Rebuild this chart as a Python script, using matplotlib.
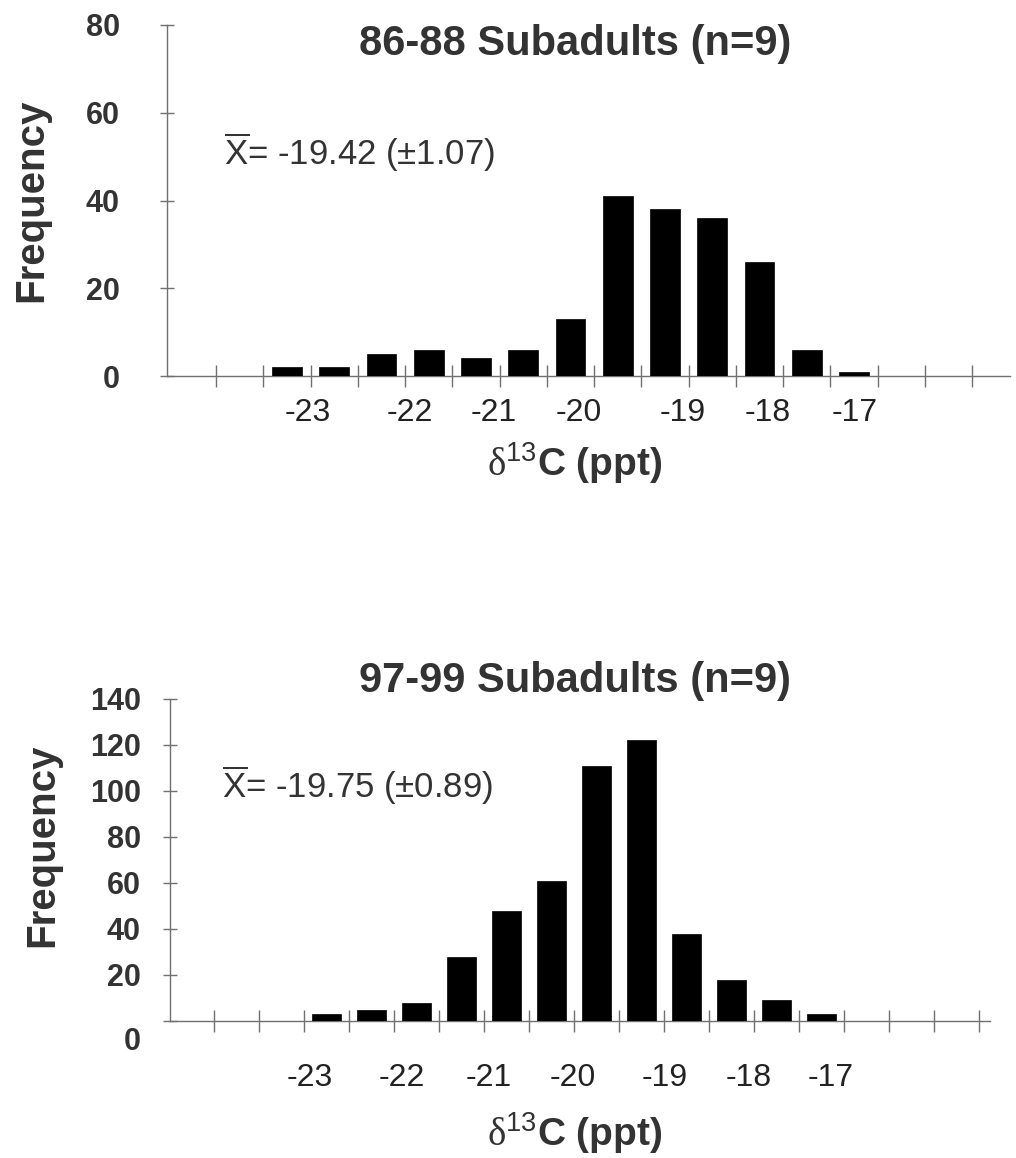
import matplotlib
matplotlib.use('Agg')
import matplotlib.pyplot as plt
from matplotlib import transforms

plt.rcParams['font.family'] = ['Liberation Sans', 'DejaVu Sans']
plt.rcParams['mathtext.fontset'] = 'custom'
plt.rcParams['mathtext.rm'] = 'Liberation Serif'
plt.rcParams['mathtext.sf'] = 'Liberation Sans'
plt.rcParams['mathtext.bf'] = 'Liberation Sans:bold'

# frequencies per 0.5 ppt bin (bin index 0 = leftmost bin on the axis)
freq_8688 = [0, 2, 2, 5, 6, 4, 6, 13, 41, 38, 36, 26, 6, 1, 0, 0]
freq_9799 = [0, 0, 3, 5, 8, 28, 48, 61, 111, 122, 38, 18, 9, 3, 0, 0, 0]

# axis labels sit where they were typed on the original figure
tick_labels = ['-23', '-22', '-21', '-20', '-19', '-18', '-17']
label_pos_8688 = [1.44, 3.59, 5.37, 7.17, 9.37, 11.18, 13.02]
label_pos_9799 = [1.63, 3.68, 5.61, 7.48, 9.52, 11.37, 13.19]

mean_8688, sd_8688 = -19.42, 1.07
mean_9799, sd_9799 = -19.75, 0.89

W, H = 1016, 1158
fig = plt.figure(figsize=(W / 100, H / 100), dpi=100)
fig.patch.set_facecolor('white')

axis_col = '#707070'


def px(x, y):
    return x / W, 1 - y / H


def panel(rect, freq, ymax, label_pos, xlim, ylab_pad, xlab_pad, bar_w):
    ax = fig.add_axes(rect)
    n = len(freq)
    ax.bar(range(n), freq, width=bar_w, color='black', edgecolor='black', linewidth=0.5, zorder=3)
    ax.set_xlim(*xlim)
    ax.set_ylim(0, ymax)
    for s in ['top', 'right']:
        ax.spines[s].set_visible(False)
    for s in ['left', 'bottom']:
        ax.spines[s].set_color(axis_col)
        ax.spines[s].set_linewidth(1.0)
    # bin edges get the tick marks
    ax.set_xticks([i - 0.5 for i in range(n + 1)])
    ax.set_xticklabels([])
    ax.tick_params(axis='x', which='major', direction='inout', length=16, width=1, color=axis_col)
    ax.set_xticks(label_pos, minor=True)
    ax.set_xticklabels(tick_labels, minor=True, fontsize=23, color='#222222')
    ax.tick_params(axis='x', which='minor', length=0, pad=xlab_pad)
    ax.set_yticks(range(0, ymax + 1, 20))
    ax.tick_params(axis='y', direction='inout', length=10, width=1, color=axis_col, pad=ylab_pad)
    for t in ax.get_yticklabels():
        t.set_fontsize(22)
        t.set_fontweight('bold')
        t.set_color('#333333')
    return ax


ax1 = panel([167 / W, 1 - 376 / H, (1010 - 167) / W, (376 - 25) / H],
            freq_8688, 80, label_pos_8688, (-1.54, 16.3), 29, 16, 0.63)
ax2 = panel([170 / W, 1 - 1021 / H, (990 - 170) / W, (1021 - 699) / H],
            freq_9799, 140, label_pos_9799, (-1.48, 16.74), 16, 30, 0.65)

# the zero on the lower axis is printed a little below its tick
zero_lab = ax2.get_yticklabels()[0]
zero_lab.set_transform(zero_lab.get_transform() + transforms.ScaledTranslation(0, -18 / 100, fig.dpi_scale_trans))

title_kw = dict(fontsize=30, fontweight='bold', color='#333333', ha='center', va='baseline')
fig.text(*px(575, 55), '86-88 Subadults (n=9)', **title_kw)
fig.text(*px(575, 692), '97-99 Subadults (n=9)', **title_kw)

ylab_kw = dict(fontsize=29, fontweight='bold', color='#333333', rotation=90, ha='center', va='center')
fig.text(*px(31, 200), 'Frequency', **ylab_kw)
fig.text(*px(42, 845), 'Frequency', **ylab_kw)

xlab = r'$\mathrm{\delta}^{\mathsf{13}}$C (ppt)'
xlab_kw = dict(fontsize=28, fontweight='bold', color='#333333', ha='center', va='baseline')
fig.text(*px(575, 476), xlab, **xlab_kw)
fig.text(*px(575, 1146), xlab, **xlab_kw)

mean_kw = dict(fontsize=25, color='#333333', ha='left', va='baseline')
fig.text(*px(224, 165), r'$\overline{\mathsf{X}}$' + '= %.2f (\u00b1%.2f)' % (mean_8688, sd_8688), **mean_kw)
fig.text(*px(222, 798), r'$\overline{\mathsf{X}}$' + '= %.2f (\u00b1%.2f)' % (mean_9799, sd_9799), **mean_kw)

fig.savefig('out.png', dpi=100, facecolor='white')
